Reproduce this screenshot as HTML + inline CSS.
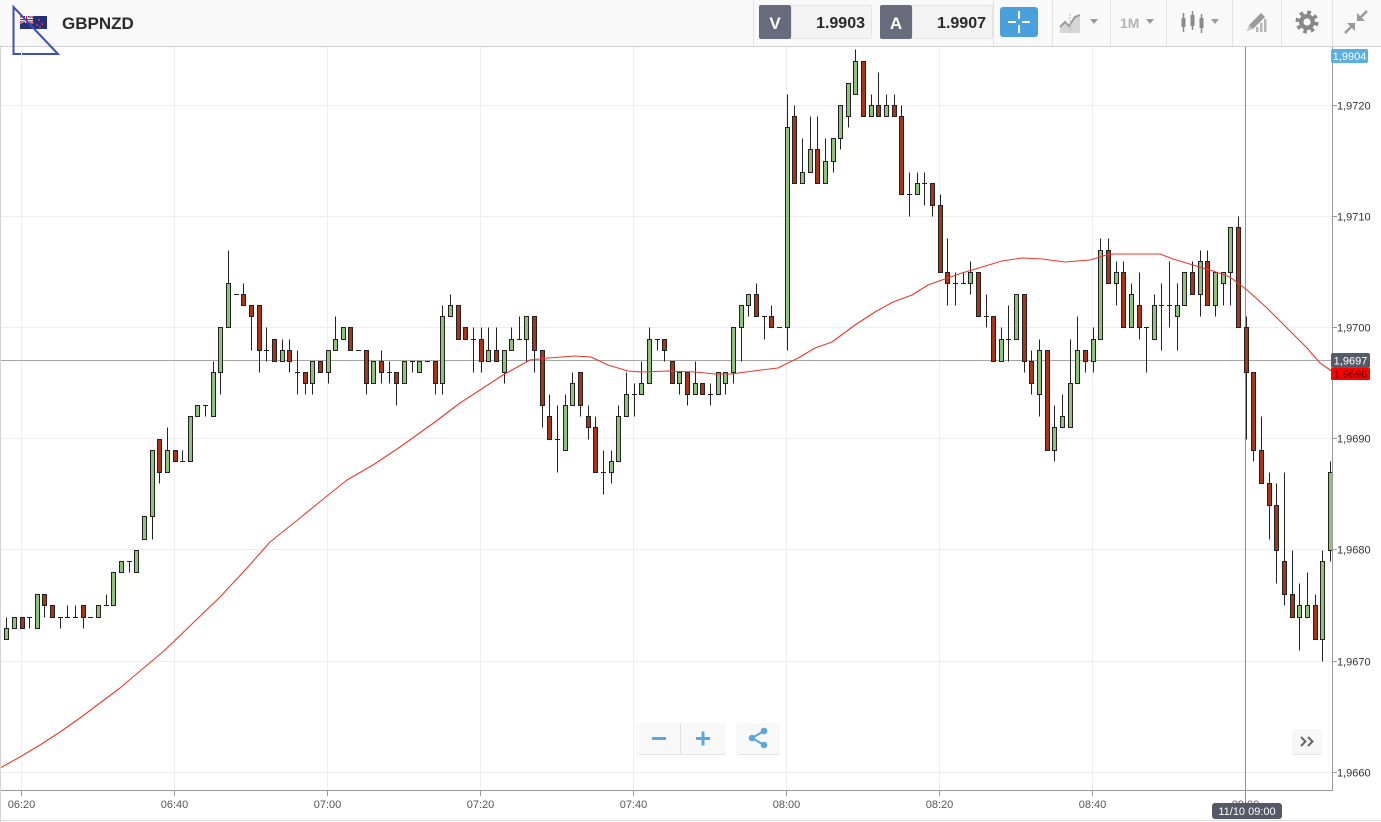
<!DOCTYPE html>
<html>
<head>
<meta charset="utf-8">
<style>
  html,body{margin:0;padding:0;background:#fff;}
  body{width:1381px;height:822px;overflow:hidden;}
  svg{display:block;font-family:"Liberation Sans",Arial,sans-serif;}
</style>
</head>
<body>
<svg id="s" width="1381" height="822" viewBox="0 0 1381 822" xmlns="http://www.w3.org/2000/svg">
  <!-- background -->
  <rect x="0" y="0" width="1381" height="822" fill="#ffffff"/>
  <!-- toolbar -->
  <rect x="0" y="0" width="1381" height="46" fill="#f9f9f9"/>
  <line x1="0" y1="46.5" x2="1381" y2="46.5" stroke="#cfcfcf"/>

  <!-- flag -->
  <g>
    <rect x="20" y="16" width="27" height="13" fill="#25307a"/>
    <rect x="20" y="16" width="13" height="7" fill="#25307a"/>
    <line x1="20" y1="16" x2="33" y2="23" stroke="#fff" stroke-width="2"/>
    <line x1="33" y1="16" x2="20" y2="23" stroke="#fff" stroke-width="2"/>
    <line x1="20" y1="16" x2="33" y2="23" stroke="#c8102e" stroke-width="0.8"/>
    <line x1="33" y1="16" x2="20" y2="23" stroke="#c8102e" stroke-width="0.8"/>
    <rect x="25" y="16" width="3" height="7" fill="#fff"/>
    <rect x="20" y="18" width="13" height="3" fill="#fff"/>
    <rect x="26" y="16" width="1.2" height="7" fill="#c8102e"/>
    <rect x="20" y="19" width="13" height="1.2" fill="#c8102e"/>
    <circle cx="39" cy="20" r="1" fill="#e33"/>
    <circle cx="42" cy="24" r="1" fill="#e33"/>
    <circle cx="37" cy="25" r="1" fill="#e33"/>
    <circle cx="40" cy="27" r="1" fill="#e33"/>
  </g>
  <!-- blue drawn triangle -->
  <polygon points="13.5,7 13.5,54 58,54" fill="none" stroke="#3f4fb8" stroke-width="2"/>
  <text x="62" y="29" font-size="17" font-weight="bold" fill="#2b2b2b">GBPNZD</text>

  <!-- separators -->
  <g stroke="#e2e2e2">
    <line x1="753.5" y1="0" x2="753.5" y2="46"/>
    <line x1="993.5" y1="0" x2="993.5" y2="46"/>
    <line x1="1052.5" y1="0" x2="1052.5" y2="46"/>
    <line x1="1110.5" y1="0" x2="1110.5" y2="46"/>
    <line x1="1166.5" y1="0" x2="1166.5" y2="46"/>
    <line x1="1232.5" y1="0" x2="1232.5" y2="46"/>
    <line x1="1281.5" y1="0" x2="1281.5" y2="46"/>
    <line x1="1332.5" y1="0" x2="1332.5" y2="46"/>
  </g>

  <!-- V / A price boxes -->
  <rect x="791.5" y="5.5" width="80" height="33" fill="#f3f3f3" stroke="#e4e4e4" rx="2"/>
  <rect x="759" y="5" width="32" height="34" fill="#676b7c" rx="2"/>
  <text x="775" y="29" font-size="17" font-weight="bold" fill="#fff" text-anchor="middle">V</text>
  <text x="865" y="28" font-size="16" font-weight="bold" fill="#2a2a2a" text-anchor="end">1.9903</text>

  <rect x="912.5" y="5.5" width="80" height="33" fill="#f3f3f3" stroke="#e4e4e4" rx="2"/>
  <rect x="880" y="5" width="32" height="34" fill="#676b7c" rx="2"/>
  <text x="896" y="29" font-size="17" font-weight="bold" fill="#fff" text-anchor="middle">A</text>
  <text x="986" y="28" font-size="16" font-weight="bold" fill="#2a2a2a" text-anchor="end">1.9907</text>

  <!-- crosshair button -->
  <rect x="1000" y="7" width="38" height="30" fill="#4aa0dc" rx="3"/>
  <g stroke="#fff" stroke-width="2">
    <line x1="1008" y1="22" x2="1016" y2="22"/>
    <line x1="1022" y1="22" x2="1030" y2="22"/>
    <line x1="1019" y1="11" x2="1019" y2="19"/>
    <line x1="1019" y1="25" x2="1019" y2="33"/>
  </g>

  <!-- chart type icon -->
  <polygon points="1060,33 1060,27 1065,22 1069,26 1075,17 1080,15 1080,33" fill="#d6d6d6"/>
  <polyline points="1060,27 1065,22 1069,26 1075,17 1080,15" fill="none" stroke="#9c9c9c" stroke-width="2"/>
  <line x1="1070" y1="14" x2="1070" y2="33" stroke="#bbb" stroke-width="1" stroke-dasharray="2 1"/>
  <polygon points="1090,19 1098,19 1094,24" fill="#999"/>

  <!-- 1M -->
  <text x="1120" y="28" font-size="14" font-weight="bold" fill="#b3b3b3">1M</text>
  <polygon points="1146,19 1154,19 1150,24" fill="#999"/>

  <!-- candle icon -->
  <g fill="#8a8a8a" stroke="#8a8a8a">
    <line x1="1183.5" y1="13" x2="1183.5" y2="32" stroke-width="1.5"/>
    <rect x="1181.5" y="18" width="4" height="9" stroke="none"/>
    <line x1="1192.5" y1="11" x2="1192.5" y2="30" stroke-width="1.5"/>
    <rect x="1190.5" y="15" width="4" height="11" stroke="none"/>
    <line x1="1201.5" y1="14" x2="1201.5" y2="33" stroke-width="1.5"/>
    <rect x="1199.5" y="18" width="4" height="10" stroke="none"/>
  </g>
  <polygon points="1211,19 1219,19 1215,24" fill="#999"/>

  <!-- drawing icon -->
  <g>
    <polygon points="1247,31 1249,25 1261,13 1265,17 1253,29" fill="#9a9a9a"/>
    <polygon points="1247,31 1249,25 1253,29" fill="#c9c9c9"/>
    <rect x="1256" y="27" width="2.5" height="5" fill="#b5b5b5"/>
    <rect x="1260" y="23" width="2.5" height="9" fill="#b5b5b5"/>
    <rect x="1264" y="19" width="2.5" height="13" fill="#b5b5b5"/>
  </g>

  <!-- gear -->
  <g>
    <circle cx="1307" cy="22" r="9.5" fill="none" stroke="#888" stroke-width="4" stroke-dasharray="3.6 3.85"/>
    <circle cx="1307" cy="22" r="8" fill="#888"/>
    <circle cx="1307" cy="22" r="3.6" fill="#f9f9f9"/>
  </g>

  <!-- compress arrows -->
  <g stroke="#9a9a9a" stroke-width="2.5" fill="#9a9a9a">
    <line x1="1367" y1="11" x2="1360" y2="18"/>
    <polygon points="1357,13 1357,21 1365,21" stroke="none"/>
    <line x1="1345" y1="33" x2="1352" y2="26"/>
    <polygon points="1355,23 1347,23 1355,31" stroke="none"/>
  </g>

  <!-- grid -->
  <g stroke="#eeeeee" stroke-width="1">
    <line x1="0" y1="105.5" x2="1332" y2="105.5"/>
    <line x1="0" y1="216.5" x2="1332" y2="216.5"/>
    <line x1="0" y1="327.5" x2="1332" y2="327.5"/>
    <line x1="0" y1="438.5" x2="1332" y2="438.5"/>
    <line x1="0" y1="549.5" x2="1332" y2="549.5"/>
    <line x1="0" y1="661.5" x2="1332" y2="661.5"/>
    <line x1="0" y1="772.5" x2="1332" y2="772.5"/>
    <line x1="21.5" y1="47" x2="21.5" y2="790"/>
    <line x1="174.5" y1="47" x2="174.5" y2="790"/>
    <line x1="327.5" y1="47" x2="327.5" y2="790"/>
    <line x1="480.5" y1="47" x2="480.5" y2="790"/>
    <line x1="633.5" y1="47" x2="633.5" y2="790"/>
    <line x1="786.5" y1="47" x2="786.5" y2="790"/>
    <line x1="939.5" y1="47" x2="939.5" y2="790"/>
    <line x1="1092.5" y1="47" x2="1092.5" y2="790"/>
  </g>

  <!-- crosshair -->
  <line x1="0" y1="360.5" x2="1332" y2="360.5" stroke="#a6a6a6"/>
  <line x1="1245.5" y1="47" x2="1245.5" y2="803" stroke="#909090"/>

  <!-- candles -->
  <g id="c"></g>

  <!-- moving average -->
  <polyline fill="none" stroke="#e63a2e" stroke-width="1.1" stroke-linejoin="round"
    points="0,768 20,757 40,745 60,732 80,718 100,703 120,688 140,671 165,650 193,623 220,597 247,568 270,542 300,518 322,500 347,480 373,465 400,447 435,422 460,403 480,390 503,375 530,360 548,358 575,356 591,357 608,365 628,371 641,372 668,371 695,372 715,374 731,374 761,370 778,368 800,357 815,348 832,342 855,325 875,312 893,302 912,295 928,285 942,280 962,273 982,267 1002,261 1022,258 1042,259 1065,262 1090,260 1110,254 1160,254 1173,259 1193,265 1213,271 1230,277 1247,290 1267,308 1287,328 1307,348 1320,363 1333,372"/>

  <!-- axes -->
  <line x1="1332.5" y1="47" x2="1332.5" y2="790" stroke="#9a9a9a"/>
  <line x1="0" y1="790.5" x2="1333" y2="790.5" stroke="#9a9a9a"/>
  <line x1="0.5" y1="47" x2="0.5" y2="822" stroke="#d4d4d4"/>
  <line x1="0" y1="820.5" x2="1381" y2="820.5" stroke="#dcdcdc"/>

  <!-- y ticks + labels -->
  <g stroke="#9a9a9a">
    <line x1="1333" y1="105.5" x2="1337" y2="105.5"/>
    <line x1="1333" y1="216.5" x2="1337" y2="216.5"/>
    <line x1="1333" y1="327.5" x2="1337" y2="327.5"/>
    <line x1="1333" y1="438.5" x2="1337" y2="438.5"/>
    <line x1="1333" y1="549.5" x2="1337" y2="549.5"/>
    <line x1="1333" y1="661.5" x2="1337" y2="661.5"/>
    <line x1="1333" y1="772.5" x2="1337" y2="772.5"/>
  </g>
  <g font-size="11" fill="#333">
    <text x="1337" y="109.5">1,9720</text>
    <text x="1337" y="220.5">1,9710</text>
    <text x="1337" y="331.5">1,9700</text>
    <text x="1337" y="442.5">1,9690</text>
    <text x="1337" y="553.5">1,9680</text>
    <text x="1337" y="665.5">1,9670</text>
    <text x="1337" y="776.5">1,9660</text>
  </g>

  <!-- x ticks + labels -->
  <g stroke="#9a9a9a">
    <line x1="21.5" y1="791" x2="21.5" y2="796"/>
    <line x1="174.5" y1="791" x2="174.5" y2="796"/>
    <line x1="327.5" y1="791" x2="327.5" y2="796"/>
    <line x1="480.5" y1="791" x2="480.5" y2="796"/>
    <line x1="633.5" y1="791" x2="633.5" y2="796"/>
    <line x1="786.5" y1="791" x2="786.5" y2="796"/>
    <line x1="939.5" y1="791" x2="939.5" y2="796"/>
    <line x1="1092.5" y1="791" x2="1092.5" y2="796"/>
  </g>
  <g font-size="11" fill="#555" text-anchor="middle">
    <text x="21.5" y="808">06:20</text>
    <text x="174.5" y="808">06:40</text>
    <text x="327.5" y="808">07:00</text>
    <text x="480.5" y="808">07:20</text>
    <text x="633.5" y="808">07:40</text>
    <text x="786.5" y="808">08:00</text>
    <text x="939.5" y="808">08:20</text>
    <text x="1092.5" y="808">08:40</text>
    <text x="1245.5" y="808">09:00</text>
  </g>

  <!-- price badges -->
  <rect x="1331" y="49" width="37" height="14" fill="#5aaee0" rx="2"/>
  <text x="1349.5" y="60" font-size="11" fill="#fff" text-anchor="middle">1,9904</text>
  <rect x="1331" y="353" width="39" height="15" fill="#575b67" rx="2"/>
  <text x="1350.5" y="364.5" font-size="11" fill="#fff" text-anchor="middle">1,9697</text>
  <rect x="1331" y="368" width="39" height="12" fill="#ff0000" rx="1"/>
  <text x="1350.5" y="378" font-size="11" fill="#5a0000" text-anchor="middle">1,9696</text>

  <!-- date badge -->
  <rect x="1212" y="803" width="70" height="16" fill="#555866" rx="3"/>
  <text x="1247" y="815" font-size="11" fill="#fff" text-anchor="middle">11/10 09:00</text>

  <!-- zoom buttons -->
  <rect x="637" y="724" width="89" height="31" fill="#e4e4e4" rx="3"/>
  <rect x="637" y="723" width="89" height="31" fill="#f8f8f8" rx="3"/>
  <line x1="680.5" y1="723" x2="680.5" y2="754" stroke="#e2e2e2"/>
  <line x1="652" y1="738.5" x2="666" y2="738.5" stroke="#5ba7dd" stroke-width="3"/>
  <line x1="696" y1="738.5" x2="710" y2="738.5" stroke="#5ba7dd" stroke-width="3"/>
  <line x1="703" y1="731.5" x2="703" y2="745.5" stroke="#5ba7dd" stroke-width="3"/>

  <rect x="736" y="724" width="44" height="31" fill="#e4e4e4" rx="3"/>
  <rect x="736" y="723" width="44" height="31" fill="#f8f8f8" rx="3"/>
  <g stroke="#5ba7dd" stroke-width="2" fill="#5ba7dd">
    <line x1="752" y1="738" x2="764" y2="731"/>
    <line x1="752" y1="738" x2="764" y2="745"/>
    <circle cx="752" cy="738" r="3.3" stroke="none"/>
    <circle cx="764" cy="731" r="3.3" stroke="none"/>
    <circle cx="764" cy="745" r="3.3" stroke="none"/>
  </g>

  <!-- scroll right button -->
  <rect x="1292" y="730" width="30" height="25" fill="#e4e4e4" rx="3"/>
  <rect x="1292" y="729" width="30" height="25" fill="#f7f7f7" rx="3"/>
  <g fill="none" stroke="#666" stroke-width="2">
    <polyline points="1301,737 1305.5,741.5 1301,746"/>
    <polyline points="1308,737 1312.5,741.5 1308,746"/>
  </g>
</svg>
<script>
(function(){
var D=[
[12,13,14,12],[13,14],[14,13],[14,14,14,13],[13,16],[16,15,16,14],[15,14],[14,14,14,13],[14,14,15,14],[14,14,15,14],
[15,14,15,13],[14,14],[14,15],[15,15,16,15],[15,18],[18,19],[19,19,19,18],[18,20],[21,23],[23,29,29,21],
[30,27,30,26],[27,29,31,27],[29,28],[28,28,29,28],[28,32],[32,33],[33,33,33,32],[32,36,37,32],[36,40,40,34],[40,44,47,40],
[43,43],[43,42,44,42],[42,41,42,38],[42,38,42,36],[38,38,40,37],[39,37],[37,38,39,37],[38,37,39,36],[36,36,38,34],[36,35,36,34],
[35,37,37,34],[37,36],[36,38,38,35],[38,39,41,38],[39,40],[40,38],[38,38],[38,35,38,34],[35,37],[37,36,38,35],
[36,36,37,35],[36,35,36,33],[35,37],[37,37,37,36],[36,37],[37,37],[37,35,37,34],[35,41,42,34],[41,42,43,41],[42,39],
[40,39],[39,39,40,36],[39,37,40,36],[37,38,40,37],[38,37,40,37],[36,38,38,35],[38,39,40,38],[39,39,41,39],[39,41,41,37],[41,38,41,36],
[38,33,38,31],[32,30,34,30],[30,30,33,27],[29,33,34,29],[33,35,36,33],[36,33,36,32],[32,31,33,30],[31,27,32,27],[27,27,29,25],[27,28,29,26],
[28,32,33,28],[32,34,36,32],[34,34,35,32],[34,35,37,34],[35,39,40,35],[39,39,39,38],[39,38,39,37],[37,35],[35,36,36,34],[36,34,36,33],
[34,35,37,34],[35,34],[34,34,35,33],[34,36],[35,36,36,34],[36,40,40,35],[40,42,42,37],[42,43,43,41],[43,41,44,41],[41,41,41,39],
[41,40,42,40],[40,40],[40,58,61,38],[59,53,60,53],[53,54,57,53],[54,56,59,54],[56,53,59,53],[53,55,57,53],[55,57,57,54],[57,60,60,56],
[59,62,62,58],[61,64,65,61],[64,59],[59,60,61,59],[60,59,63,59],[59,60,61,59],[60,59,61,59],[59,52,60,52],[52,52,54,50],[52,53,54,52],
[53,53,54,51],[53,51,53,50],[51,45,52,45],[45,44,48,42],[44,44,45,42],[44,44,45,44],[44,45,46,43],[45,41],[41,41,43,40],[41,37],
[37,39,40,37],[39,39,42,37],[39,43],[43,37,43,36],[37,35,38,34],[34,38,39,32],[38,29],[29,31,33,28],[31,32,34,31],[31,35,39,31],
[35,38,41,35],[38,37,38,36],[37,39,40,36],[39,47,48,39],[47,44,48,44],[44,45,46,42],[45,40,46,40],[40,43,44,40],[42,40,45,39],[40,40,40,36],
[39,42,43,39],[42,42,44,38],[42,42,46,40],[41,42,44,38],[42,45],[45,43,46,43],[43,46,47,41],[46,42,47,42],[42,45,45,41],[44,45,45,42],
[45,49,49,42],[49,40,50,40],[40,36,41,30],[36,29,36,28],[29,26,32,26],[26,24,27,21],[24,20,26,17],[19,16,27,15],[16,14,20,14],[14,15,17,11],
[14,15,18,14],[15,12,16,12],[12,19,20,10],[20,27,28,19]
];
function Y(L){return Math.round(772.2-11.12*L)+0.5;}
var out='';
for(var i=0;i<D.length;i++){
  var k=i-2,d=D[i],o=d[0],c=d[1],h=d[2],l=d[3];
  if(h===undefined){h=Math.max(o,c);l=Math.min(o,c);}
  h=Math.max(h,o,c); l=Math.min(l,o,c);
  var cx=Math.round(21.5+7.651*k);
  if(h!==l){
    out+='<line x1="'+(cx+0.5)+'" y1="'+Y(h)+'" x2="'+(cx+0.5)+'" y2="'+Y(l)+'" stroke="#222" stroke-width="1"/>';
  }
  if(o===c){
    out+='<line x1="'+(cx-2)+'" y1="'+Y(o)+'" x2="'+(cx+3)+'" y2="'+Y(o)+'" stroke="#222" stroke-width="1"/>';
  }else{
    var top=Y(Math.max(o,c)),bot=Y(Math.min(o,c));
    var fill=c>o?'#8fc27c':'#ab3418';
    out+='<rect x="'+(cx-1.5)+'" y="'+top+'" width="4" height="'+(bot-top)+'" fill="'+fill+'" stroke="#222" stroke-width="1"/>';
  }
}
document.getElementById('c').innerHTML=out;
})();
</script>
</body>
</html>
